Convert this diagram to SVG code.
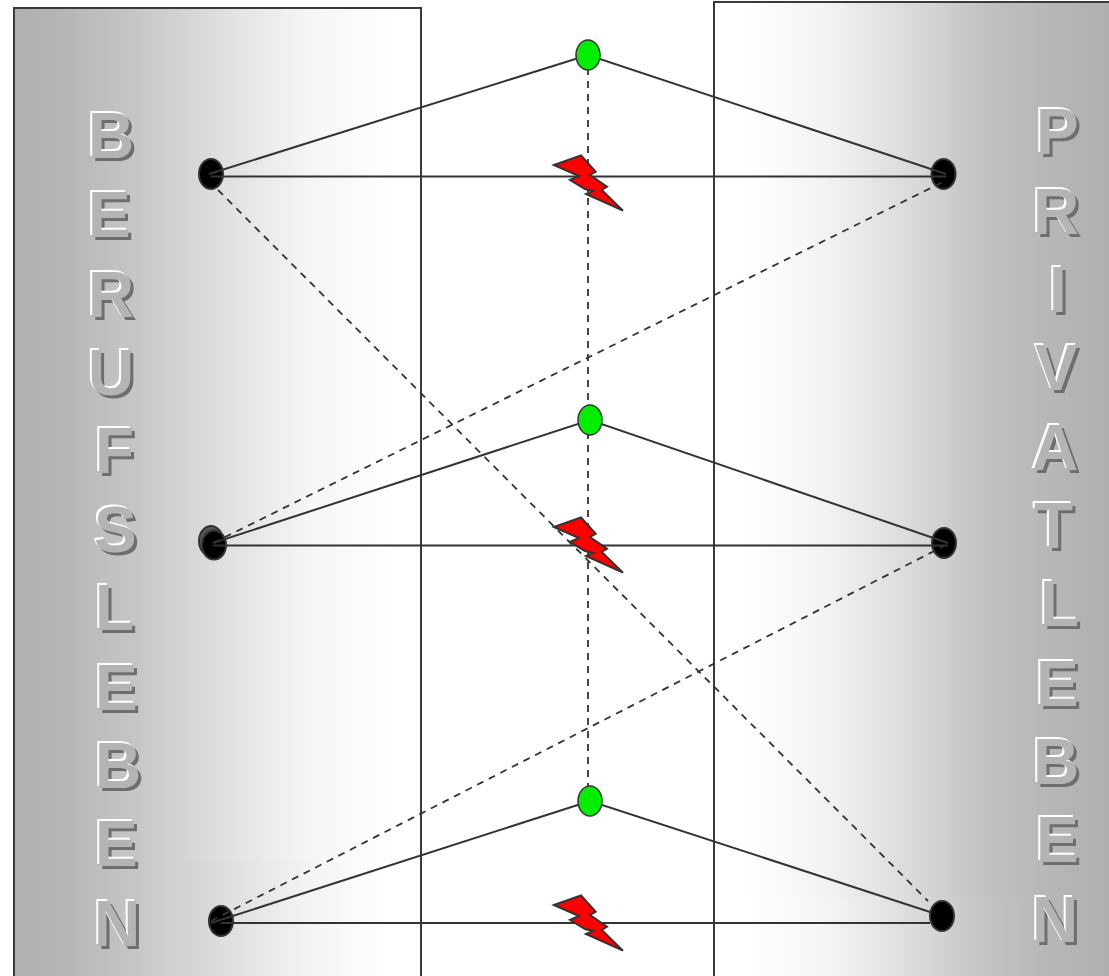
<svg xmlns="http://www.w3.org/2000/svg" width="1109" height="976" viewBox="0 0 1109 976">
<defs>
<linearGradient id="gl" gradientUnits="userSpaceOnUse" x1="14" y1="0" x2="421" y2="0"><stop offset="0" stop-color="#b0b0b0"/><stop offset="0.1" stop-color="#b4b4b4"/><stop offset="0.3" stop-color="#c6c6c6"/><stop offset="0.5" stop-color="#dedede"/><stop offset="0.72" stop-color="#f5f5f5"/><stop offset="0.95" stop-color="#ffffff"/></linearGradient>
<linearGradient id="gl2" gradientUnits="userSpaceOnUse" x1="14" y1="0" x2="421" y2="0"><stop offset="0" stop-color="#b0b0b0"/><stop offset="0.1" stop-color="#b4b4b4"/><stop offset="0.3" stop-color="#c6c6c6"/><stop offset="0.5" stop-color="#dcdcdc"/><stop offset="0.72" stop-color="#f3f3f3"/><stop offset="0.92" stop-color="#ffffff"/></linearGradient>
<linearGradient id="gr" gradientUnits="userSpaceOnUse" x1="1109" y1="0" x2="714" y2="0"><stop offset="0" stop-color="#b0b0b0"/><stop offset="0.1" stop-color="#b4b4b4"/><stop offset="0.3" stop-color="#c0c0c0"/><stop offset="0.5" stop-color="#dadada"/><stop offset="0.72" stop-color="#f3f3f3"/><stop offset="0.92" stop-color="#ffffff"/></linearGradient>
<linearGradient id="gr2" gradientUnits="userSpaceOnUse" x1="1109" y1="0" x2="714" y2="0"><stop offset="0" stop-color="#b0b0b0"/><stop offset="0.1" stop-color="#b4b4b4"/><stop offset="0.3" stop-color="#c2c2c2"/><stop offset="0.5" stop-color="#dcdcdc"/><stop offset="0.72" stop-color="#f5f5f5"/><stop offset="0.92" stop-color="#ffffff"/></linearGradient>
<path id="bolt" d="M554,165 L581,155.300 L595.700,171.700 L590,175 L607,186.700 L601.700,190 L623,210.700 L586,194 L593,191 L585,189 L570,180 L579,176 Z"/>
</defs>
<style>
.panel{stroke:#3a3a3a;stroke-width:2}
.c{fill:none;stroke:#333333;stroke-width:2}
.d{fill:none;stroke:#333333;stroke-width:1.800;stroke-dasharray:7 6}
.n{fill:#000000;stroke:#333333;stroke-width:2}
.g{fill:#00ee00;stroke:#333333;stroke-width:1.500}
.b{fill:#ff0000;stroke:#333333;stroke-width:2;stroke-linejoin:miter}
text{font-family:"Liberation Sans",Arial,sans-serif;font-weight:bold;font-size:64px}
.s{fill:#6e6e6e}.h{fill:#ffffff}.f{fill:#b4b4b4}
</style>
<g id="panel-left">
<rect class="panel" x="14" y="8" width="407" height="980" fill="url(#gl)"/>
<rect x="180" y="862" width="240" height="114" fill="url(#gl2)"/>
</g>
<g id="panel-right">
<rect class="panel" x="714" y="2" width="405" height="986" fill="url(#gr)"/>
<rect x="715" y="897" width="305" height="79" fill="url(#gr2)"/>
</g>
<g id="node-l1"><ellipse class="n" cx="211" cy="174" rx="12" ry="15"/></g>
<g id="node-r1"><ellipse class="n" cx="943.500" cy="174" rx="12" ry="15"/></g>
<g id="node-l2"><ellipse cx="211" cy="541" rx="12" ry="15" fill="#555" stroke="#333" stroke-width="2"/><ellipse class="n" cx="214" cy="545" rx="12" ry="14.500"/></g>
<g id="node-r2"><ellipse class="n" cx="944" cy="543" rx="12" ry="15"/></g>
<g id="node-l3"><ellipse class="n" cx="221" cy="921" rx="12" ry="15"/></g>
<g id="node-r3"><ellipse class="n" cx="942" cy="916" rx="12" ry="15"/></g>
<g id="connectors">
<path class="c" d="M209,174 L588,55 L946,174"/>
<path class="c" d="M211,176.500 H946"/>
<path class="d" d="M588,55 V801"/>
<path class="d" d="M218,190 L928,901"/>
<path class="d" d="M213,543 L945,181"/>
<path class="c" d="M213,543 L590,420 L948,543"/>
<path class="c" d="M213,545.500 H948"/>
<path class="d" d="M211,921 L944,546"/>
<path class="c" d="M211,923 L590,801 L930,912"/>
<path class="c" d="M221,923 H930"/>
</g>
<g id="node-g1"><ellipse class="g" cx="588" cy="55" rx="12" ry="15"/></g>
<g id="node-g2"><ellipse class="g" cx="590" cy="420" rx="12" ry="15"/></g>
<g id="node-g3"><ellipse class="g" cx="590" cy="801" rx="12" ry="15"/></g>
<g id="bolt1"><use href="#bolt" class="b"/></g>
<g id="bolt2"><use href="#bolt" class="b" y="362"/></g>
<g id="bolt3"><use href="#bolt" class="b" y="740"/></g>
<g id="label-berufsleben">
<g class="s" transform="translate(3,3)"><text x="88" y="158">B</text><text x="88" y="237">E</text><text x="88" y="317">R</text><text x="88" y="395">U</text><text x="95" y="473">F</text><text x="94" y="552">S</text><text x="95" y="630">L</text><text x="95" y="710">E</text><text x="95" y="788">B</text><text x="95" y="866">E</text><text x="94" y="946">N</text></g>
<g class="h" transform="translate(-2,-2)"><text x="88" y="158">B</text><text x="88" y="237">E</text><text x="88" y="317">R</text><text x="88" y="395">U</text><text x="95" y="473">F</text><text x="94" y="552">S</text><text x="95" y="630">L</text><text x="95" y="710">E</text><text x="95" y="788">B</text><text x="95" y="866">E</text><text x="94" y="946">N</text></g>
<g class="f"><text x="88" y="158">B</text><text x="88" y="237">E</text><text x="88" y="317">R</text><text x="88" y="395">U</text><text x="95" y="473">F</text><text x="94" y="552">S</text><text x="95" y="630">L</text><text x="95" y="710">E</text><text x="95" y="788">B</text><text x="95" y="866">E</text><text x="94" y="946">N</text></g>
</g>
<g id="label-privatleben">
<g class="s" transform="translate(3,3)"><text x="1036" y="154">P</text><text x="1033" y="234">R</text><text x="1049" y="312">I</text><text x="1035" y="390">V</text><text x="1032" y="470">A</text><text x="1034" y="548">T</text><text x="1040" y="626">L</text><text x="1036" y="706">E</text><text x="1033" y="784">B</text><text x="1036" y="862">E</text><text x="1032" y="942">N</text></g>
<g class="h" transform="translate(-2,-2)"><text x="1036" y="154">P</text><text x="1033" y="234">R</text><text x="1049" y="312">I</text><text x="1035" y="390">V</text><text x="1032" y="470">A</text><text x="1034" y="548">T</text><text x="1040" y="626">L</text><text x="1036" y="706">E</text><text x="1033" y="784">B</text><text x="1036" y="862">E</text><text x="1032" y="942">N</text></g>
<g class="f"><text x="1036" y="154">P</text><text x="1033" y="234">R</text><text x="1049" y="312">I</text><text x="1035" y="390">V</text><text x="1032" y="470">A</text><text x="1034" y="548">T</text><text x="1040" y="626">L</text><text x="1036" y="706">E</text><text x="1033" y="784">B</text><text x="1036" y="862">E</text><text x="1032" y="942">N</text></g>
</g>
</svg>
